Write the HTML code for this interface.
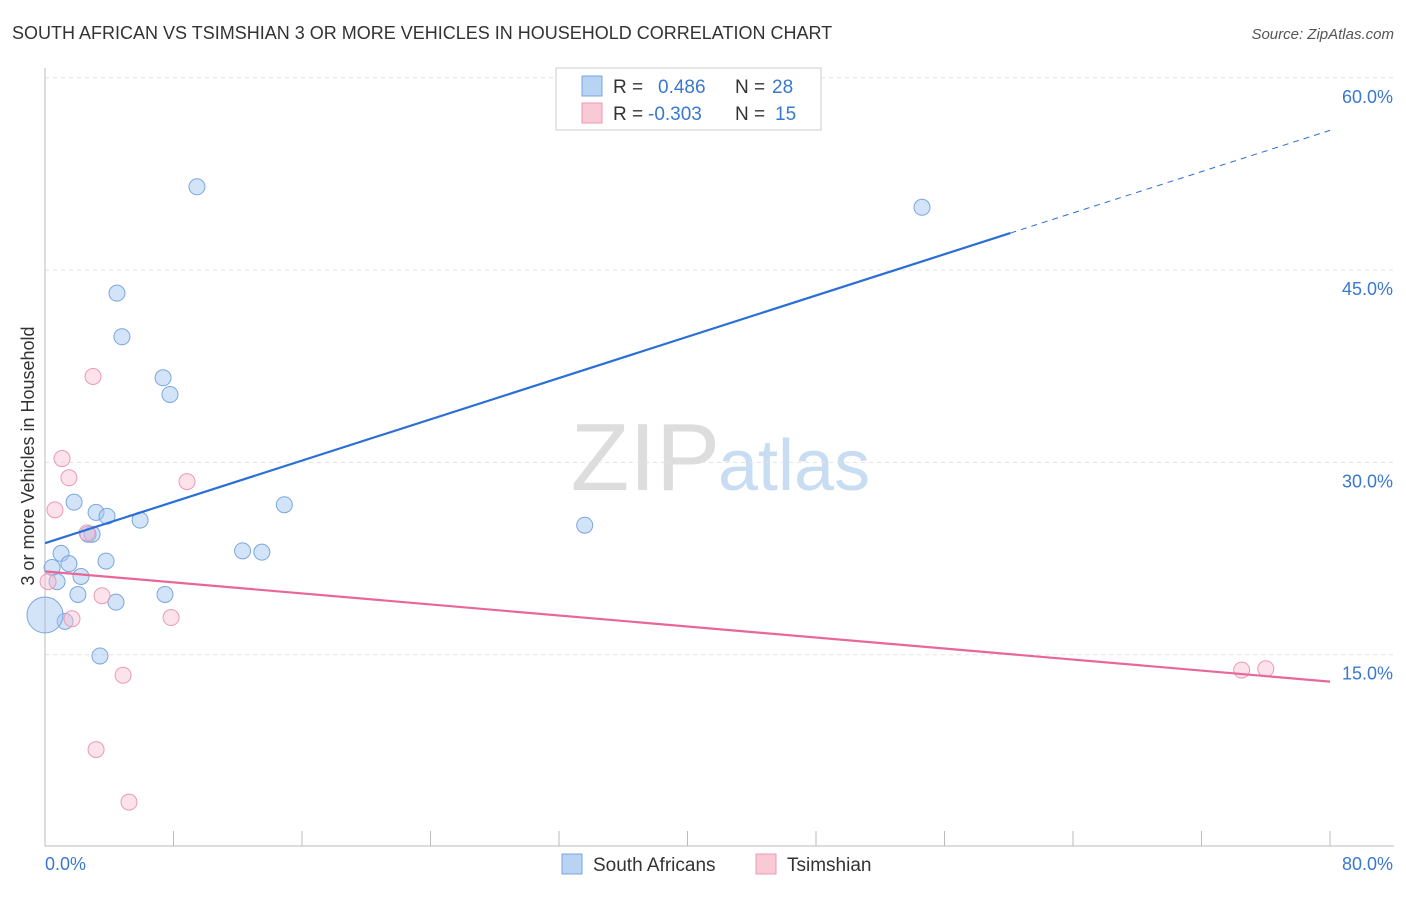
<!DOCTYPE html>
<html><head><meta charset="utf-8"><style>
body{margin:0;background:#fff;font-family:"Liberation Sans",sans-serif;}
svg text{font-family:"Liberation Sans",sans-serif;}
</style></head><body>
<svg id="chart" width="1406" height="892">
<text x="12" y="39" font-size="18" fill="#333">SOUTH AFRICAN VS TSIMSHIAN 3 OR MORE VEHICLES IN HOUSEHOLD CORRELATION CHART</text>
<text x="1394" y="39" font-size="15" fill="#555" font-style="italic" text-anchor="end">Source: ZipAtlas.com</text>
<text x="720" y="490" font-size="96" fill="#ddd" font-family="Liberation Serif" text-anchor="end">ZIP</text>
<text x="718" y="490" font-size="72" fill="#c8dcf2">atlas</text>
<text transform="translate(34,456) rotate(-90)" font-size="18" fill="#333" text-anchor="middle">3 or more Vehicles in Household</text>
<g id="grid"></g><g id="marks"></g>
<g>
<rect x="556" y="68" width="265" height="62" fill="#fff" stroke="#ccc"/>
<rect x="582" y="76" width="20" height="20" fill="#b9d3f3" stroke="#7aa6e0"/>
<rect x="582" y="103" width="20" height="20" fill="#f9c9d6" stroke="#ec9ab2"/>
<text x="613" y="93" font-size="19" fill="#333">R = </text><text x="658" y="93" font-size="19" fill="#3a78d0">0.486</text>
<text x="735" y="93" font-size="19" fill="#333">N = </text><text x="772" y="93" font-size="19" fill="#3a78d0">28</text>
<text x="613" y="120" font-size="19" fill="#333">R = </text><text x="648" y="120" font-size="19" fill="#3a78d0">-0.303</text>
<text x="735" y="120" font-size="19" fill="#333">N = </text><text x="775" y="120" font-size="19" fill="#3a78d0">15</text>
</g>
<g>
<rect x="562" y="854" width="20" height="20" fill="#b9d3f3" stroke="#7aa6e0"/>
<text x="593" y="871" font-size="19" fill="#333">South Africans</text>
<rect x="756" y="854" width="20" height="20" fill="#f9c9d6" stroke="#ec9ab2"/>
<text x="787" y="871" font-size="19" fill="#333">Tsimshian</text>
</g>
</svg>
<script>
const yTicks=[15,30,45,60];
const xLabels=["0.0%","80.0%"];
const blueX=[9.46,54.6,4.48,4.79,7.35,7.78,1.81,3.18,3.86,5.92,14.9,33.6,2.68,2.93,1.0,12.3,13.5,3.8,1.49,0.44,2.24,0.75,2.05,7.47,4.42,1.25,3.42,0];
const blueY=[51.5,49.9,43.2,39.8,36.6,35.3,26.9,26.1,25.8,25.5,26.7,25.1,24.4,24.4,22.9,23.1,23.0,22.3,22.1,21.8,21.1,20.7,19.7,19.7,19.1,17.6,14.9,18.1];
const pinkX=[2.99,1.06,1.49,8.84,0.62,2.62,3.55,1.68,7.85,4.86,3.18,5.23,0.19,74.5,76.0];
const pinkY=[36.7,30.3,28.8,28.5,26.3,24.5,19.6,17.8,17.9,13.4,7.6,3.5,20.7,13.8,13.9];
const blueTrend=[23.7,55.9], blueSolidEnd=60.1;
const pinkTrend=[21.5,12.9];
const X=v=>45+v*16.0625, Y=v=>847-v*12.82;
const NS="http://www.w3.org/2000/svg";
function mk(p,t,a){const e=document.createElementNS(NS,t);for(const k in a)e.setAttribute(k,a[k]);p.appendChild(e);return e;}
const g=document.getElementById('grid'), m=document.getElementById('marks');
yTicks.forEach(t=>{
 const l=mk(g,'line',{x1:45,x2:1394,y1:Y(t),y2:Y(t),stroke:'#e3e3e3','stroke-dasharray':'4,4'});
 
 
 const tx=mk(g,'text',{x:1393,y:Y(t)+25,'font-size':18,fill:'#3a78d0','text-anchor':'end'});tx.textContent=t.toFixed(1)+'%';
 
 
});
mk(g,'line',{x1:45,x2:45,y1:68,y2:846,stroke:'#bbb'});
const ax=mk(g,'line',{x1:45,x2:1394,y1:846,y2:846,stroke:'#bbb'});


for(let i=0;i<=10;i++){mk(g,'line',{x1:X(i*8),x2:X(i*8),y1:831,y2:846,stroke:'#bbb'});}
const t0=mk(g,'text',{x:45,y:870,'font-size':18,fill:'#3a78d0'});t0.textContent=xLabels[0];


const t1=mk(g,'text',{x:1393,y:870,'font-size':18,fill:'#3a78d0','text-anchor':'end'});t1.textContent=xLabels[1];


blueX.forEach((x,i)=>{const c=mk(m,'circle',{cx:X(x),cy:Y(blueY[i]),r:i==blueX.length-1?18:8,fill:'rgba(160,196,240,0.45)',stroke:'#7aa6e0','stroke-width':1});
 
 });
pinkX.forEach((x,i)=>{const c=mk(m,'circle',{cx:X(x),cy:Y(pinkY[i]),r:8,fill:'rgba(248,190,208,0.45)',stroke:'#ec9ab2','stroke-width':1});
 
 });
const by=x=>blueTrend[0]+(blueTrend[1]-blueTrend[0])*x/80;
const bl=mk(m,'line',{x1:X(0),y1:Y(by(0)),x2:X(blueSolidEnd),y2:Y(by(blueSolidEnd)),stroke:'#2b6fd6','stroke-width':2.2});


const bd=mk(m,'line',{x1:X(blueSolidEnd),y1:Y(by(blueSolidEnd)),x2:X(80),y2:Y(by(80)),stroke:'#2b6fd6','stroke-width':1,'stroke-dasharray':'6,5'});


const pl=mk(m,'line',{x1:X(0),y1:Y(pinkTrend[0]),x2:X(80),y2:Y(pinkTrend[1]),stroke:'#e8679a','stroke-width':2.2});


</script>
</body></html>
